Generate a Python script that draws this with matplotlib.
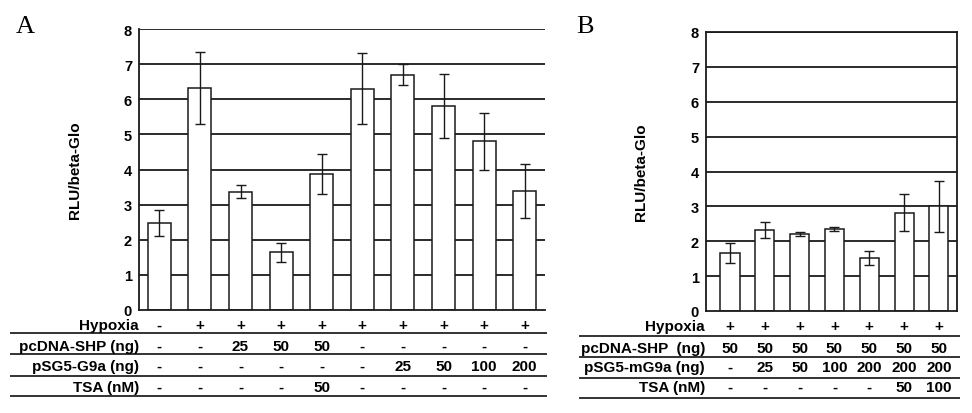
import matplotlib
matplotlib.use("Agg")
import matplotlib.pyplot as plt
import matplotlib.transforms as mtrans
from matplotlib.lines import Line2D

plt.rcParams['font.family'] = ['Liberation Sans', 'DejaVu Sans']

# panel A data
a_vals = [2.48, 6.32, 3.37, 1.65, 3.87, 6.30, 6.70, 5.81, 4.80, 3.39]
a_err = [0.36, 1.02, 0.19, 0.27, 0.57, 1.01, 0.30, 0.92, 0.82, 0.78]
a_rows = ["Hypoxia", "pcDNA-SHP (ng)", "pSG5-G9a (ng)", "TSA (nM)"]
a_hyp = ["-", "+", "+", "+", "+", "+", "+", "+", "+", "+"]
a_shp = ["-", "-", "25", "50", "50", "-", "-", "-", "-", "-"]
a_g9a = ["-", "-", "-", "-", "-", "-", "25", "50", "100", "200"]
a_tsa = ["-", "-", "-", "-", "50", "-", "-", "-", "-", "-"]

# panel B data
b_vals = [1.66, 2.32, 2.21, 2.35, 1.52, 2.82, 3.0]
b_err = [0.28, 0.24, 0.05, 0.06, 0.20, 0.53, 0.73]
b_rows = ["Hypoxia", "pcDNA-SHP  (ng)", "pSG5-mG9a (ng)", "TSA (nM)"]
b_hyp = ["+", "+", "+", "+", "+", "+", "+"]
b_shp = ["50", "50", "50", "50", "50", "50", "50"]
b_g9a = ["-", "25", "50", "100", "200", "200", "200"]
b_tsa = ["-", "-", "-", "-", "-", "50", "100"]

W, H = 972, 414
fig = plt.figure(figsize=(W / 100, H / 100), dpi=100)


def fx(px):
    return px / W


def fy(py):
    return 1 - py / H


def panel(box, vals, err, xlim, boxed, width, lab_x):
    l, t, r, b = box
    ax = fig.add_axes([fx(l), fy(b), fx(r) - fx(l), fy(t) - fy(b)])
    x = list(range(len(vals)))
    for v in range(1, 9):
        ax.axhline(v, color='#1a1a1a', lw=1.3, zorder=0)
    ax.bar(x, vals, width=width, color='white', edgecolor='#1a1a1a', lw=1.1, zorder=2)
    ax.errorbar(x, vals, yerr=err, fmt='none', ecolor='#1a1a1a', elinewidth=1.0,
                capsize=3.3, capthick=1.0, zorder=3)
    ax.set_xlim(*xlim)
    ax.set_ylim(0, 8)
    ax.set_yticks(range(0, 9))
    ax.set_xticks([])
    ax.tick_params(axis='y', length=0, pad=5, labelsize=10.5)
    for lab in ax.get_yticklabels():
        lab.set_fontweight('bold')
    for s in ['top', 'right']:
        ax.spines[s].set_visible(boxed)
    for s in ax.spines.values():
        s.set_linewidth(1.3)
        s.set_color('#1a1a1a')
    ax.set_ylabel("RLU/beta-Glo", fontsize=11, fontweight='bold')
    ax.yaxis.set_label_coords(lab_x, 0.5)
    return ax


def table(ax, labels, rows, label_x, line_x0, line_x1, text_y, line_y):
    tr = mtrans.blended_transform_factory(ax.transData, fig.transFigure)
    for i, (name, vals) in enumerate(zip(labels, rows)):
        fig.text(fx(label_x), fy(text_y[i]), name, ha='right', va='center',
                 fontsize=11, fontweight='bold')
        for j, v in enumerate(vals):
            ax.text(j, fy(text_y[i]), v, transform=tr, ha='center', va='center',
                    fontsize=11, fontweight='bold', clip_on=False)
        fig.add_artist(Line2D([fx(line_x0), fx(line_x1)], [fy(line_y[i]), fy(line_y[i])],
                              color='#333333', lw=1.4))


ax_a = panel((139, 30, 545, 311), a_vals, a_err, (-0.5, 9.5), False, 0.57, -0.140)
table(ax_a, a_rows, [a_hyp, a_shp, a_g9a, a_tsa], 139, 11, 546,
      [326, 347, 367, 388], [334, 355, 377, 397])

ax_b = panel((706, 33, 957, 312), b_vals, b_err, (-0.69, 6.52), True, 0.55, -0.231)
table(ax_b, b_rows, [b_hyp, b_shp, b_g9a, b_tsa], 705, 580, 959,
      [327, 349, 368, 388], [337, 358, 379, 399])

fig.text(fx(16), fy(27), "A", fontsize=19, family='Liberation Serif', va='center', ha='left')
fig.text(fx(576), fy(27), "B", fontsize=19, family='Liberation Serif', va='center', ha='left')

fig.savefig("out.png", dpi=100, facecolor='white')
